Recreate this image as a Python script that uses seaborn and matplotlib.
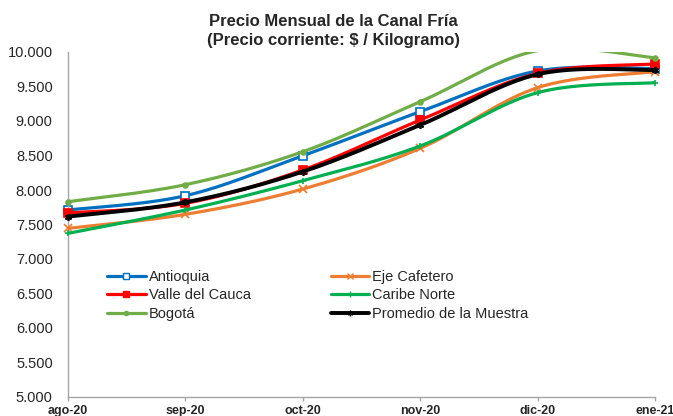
import numpy as np
import pandas as pd
import matplotlib
matplotlib.use("Agg")
import matplotlib.pyplot as plt
from matplotlib.lines import Line2D
import seaborn as sns

# Daten
meses = ['ago-20', 'sep-20', 'oct-20', 'nov-20', 'dic-20', 'ene-21']
antioquia = [7710, 7917, 8497, 9135, 9725, 9760]
eje_cafetero = [7444, 7647, 8014, 8604, 9483, 9715]
valle_cauca = [7667, 7807, 8290, 9014, 9690, 9826]
caribe_norte = [7372, 7710, 8135, 8638, 9411, 9556]
bogota = [7830, 8077, 8555, 9280, 10020, 9917]
promedio = [7614, 7822, 8266, 8942, 9677, 9740]

# name, werte, farbe, marker, fuellung, markergroesse, legendenmarker, linienbreite
series = [
    ('Antioquia', antioquia, '#0070C0', 's', 'white', 6, 4.5, 2.3),
    ('Eje Cafetero', eje_cafetero, '#ED7D31', 'x', '#ED7D31', 6, 4.5, 2.3),
    ('Valle del Cauca', valle_cauca, '#FF0000', 's', '#FF0000', 6, 4.5, 2.3),
    ('Caribe Norte', caribe_norte, '#00B050', '+', '#00B050', 5, 4, 2.3),
    ('Bogotá', bogota, '#70AD47', 'o', '#70AD47', 3.5, 3, 2.3),
    ('Promedio de la Muestra', promedio, 'black', (6, 2, 0), 'black', 5, 4, 2.8),
]


def suavizar(y, n=40):
    # Bezier-Glaettung wie in Excel (Catmull-Rom)
    x = np.arange(len(y), dtype=float)
    p = np.column_stack([x, np.array(y, dtype=float)])
    p = np.vstack([p[0], p, p[-1]])
    out = []
    t = np.linspace(0, 1, n)[:, None]
    for i in range(1, len(p) - 2):
        b0 = p[i]
        b1 = p[i] + (p[i + 1] - p[i - 1]) / 6
        b2 = p[i + 1] - (p[i + 2] - p[i]) / 6
        b3 = p[i + 1]
        seg = (1 - t) ** 3 * b0 + 3 * (1 - t) ** 2 * t * b1 + 3 * (1 - t) * t ** 2 * b2 + t ** 3 * b3
        out.append(seg if i == 1 else seg[1:])
    return np.vstack(out)


sns.set_style("white")
plt.rcParams['font.family'] = ['Liberation Sans', 'DejaVu Sans']

fig = plt.figure(figsize=(6.73, 4.16), dpi=100)
ax = fig.add_axes([68 / 673, 1 - 397 / 416, 587 / 673, 345 / 416])
ymax = 10000

handles = []
for z, (name, vals, col, mk, mfc, ms, lms, lw) in enumerate(series):
    curva = suavizar(vals)
    df = pd.DataFrame({'x': curva[:, 0], 'y': curva[:, 1]})
    sns.lineplot(data=df, x='x', y='y', sort=False, color=col, linewidth=lw,
                 ax=ax, zorder=2 + z, estimator=None)
    # Marker ausserhalb der Flaeche nicht zeigen
    sichtbar = np.where(np.array(vals) > ymax, np.nan, vals)
    ax.plot(range(len(meses)), sichtbar, linestyle='none', marker=mk, markersize=ms,
            markerfacecolor=mfc, markeredgecolor=col, markeredgewidth=1.2,
            clip_on=False, zorder=2 + z)
    handles.append(Line2D([], [], color=col, linewidth=lw, marker=mk, markersize=lms,
                          markerfacecolor=mfc, markeredgecolor=col, markeredgewidth=1.0))

ax.set_xlim(0, 5)
ax.set_ylim(5000, ymax)
ax.set_xticks(range(len(meses)))
ax.set_xticklabels(meses, fontsize=9, fontweight='bold')
yt = np.arange(5000, 10001, 500)
ax.set_yticks(yt)
ax.set_yticklabels([f'{v:,.0f}'.replace(',', '.') for v in yt], fontsize=10.5)
ax.set_xlabel('')
ax.set_ylabel('')
ax.tick_params(axis='y', length=0, pad=11)
ax.tick_params(axis='x', length=3, width=1, color='#A6A6A6', direction='out', pad=3, bottom=True)
for s in ['top', 'right']:
    ax.spines[s].set_visible(False)
for s in ['left', 'bottom']:
    ax.spines[s].set_color('#A6A6A6')
    ax.spines[s].set_linewidth(1)

orden = [0, 2, 4, 1, 3, 5]
ax.legend([handles[i] for i in orden], [series[i][0] for i in orden], ncol=2,
          frameon=False, fontsize=10.5, loc='upper left',
          bbox_to_anchor=(107 / 673, 1 - 270 / 416), bbox_transform=fig.transFigure,
          borderaxespad=0, borderpad=0, handlelength=2.65, handletextpad=0.2,
          labelspacing=0.3, columnspacing=5.5)

fig.text(0.495, 1 - 31 / 416, 'Precio Mensual de la Canal Fría\n(Precio corriente: $ / Kilogramo)',
         ha='center', va='center', fontsize=12, fontweight='bold', linespacing=1.4)

plt.savefig('out.png', dpi=100)
plt.close()
